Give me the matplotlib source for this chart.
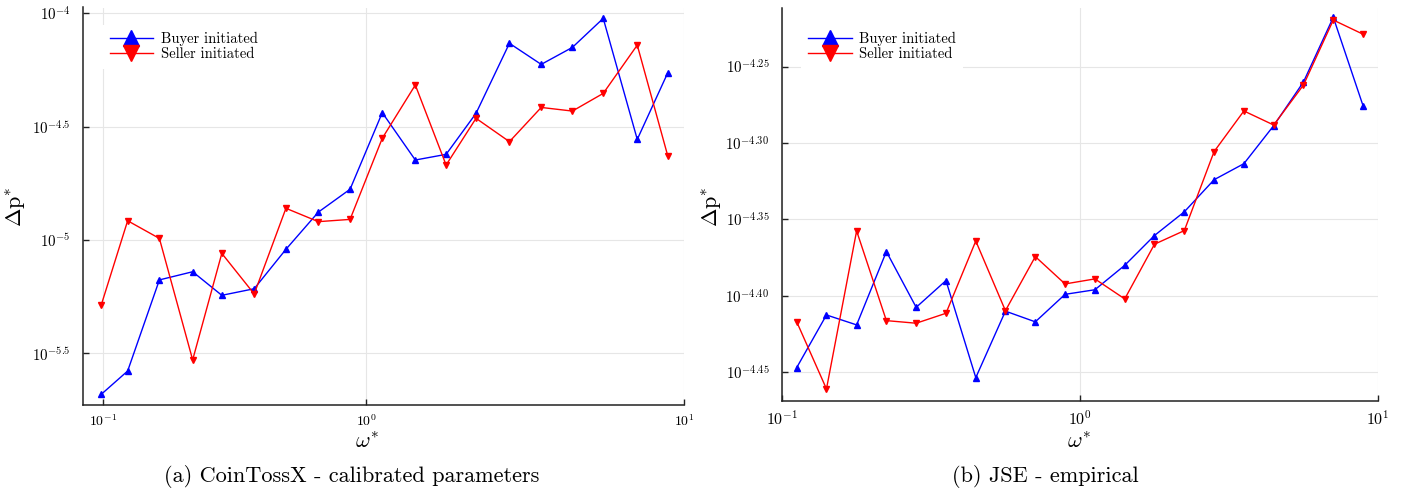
import matplotlib
matplotlib.use("Agg")
import matplotlib.pyplot as plt
from matplotlib.ticker import FixedLocator, FixedFormatter, NullLocator

plt.rcParams["font.family"] = ["cmr10", "DejaVu Serif"]
plt.rcParams["mathtext.fontset"] = "cm"
plt.rcParams["axes.unicode_minus"] = False

# ---- data ------------------------------------------------------------------
# (a) CoinTossX - calibrated parameters
omega_a = [0.147, 0.178, 0.224, 0.285, 0.352, 0.445, 0.560, 0.708, 0.891, 1.125,
           1.429, 1.786, 2.218, 2.825, 3.556, 4.457, 5.572, 7.129, 8.892]
log_dp_buy_a = [-5.681, -5.578, -5.176, -5.140, -5.244, -5.215, -5.041, -4.877,
                -4.776, -4.438, -4.647, -4.622, -4.441, -4.132, -4.225, -4.150,
                -4.022, -4.556, -4.262]
log_dp_sell_a = [-5.287, -4.915, -4.993, -5.529, -5.059, -5.238, -4.860, -4.919,
                 -4.909, -4.551, -4.316, -4.669, -4.463, -4.566, -4.415, -4.431,
                 -4.353, -4.140, -4.629]

# (b) JSE - empirical
omega_b = [0.112, 0.141, 0.178, 0.224, 0.282, 0.355, 0.447, 0.562, 0.708, 0.891,
           1.122, 1.413, 1.778, 2.239, 2.818, 3.548, 4.467, 5.623, 7.079, 8.913]
log_dp_buy_b = [-4.447, -4.4125, -4.419, -4.371, -4.4075, -4.390, -4.4535, -4.410,
                -4.417, -4.399, -4.396, -4.380, -4.3605, -4.345, -4.324, -4.3135,
                -4.2886, -4.260, -4.2177, -4.2757]
log_dp_sell_b = [-4.4169, -4.4609, -4.3575, -4.4162, -4.4179, -4.4114, -4.3641,
                 -4.4097, -4.3743, -4.3922, -4.3889, -4.402, -4.3662, -4.3573,
                 -4.3056, -4.279, -4.2882, -4.262, -4.2195, -4.2288]

yticks_a = [-5.5, -5.0, -4.5, -4.0]
yticklabels_a = [r"$10^{-5.5}$", r"$10^{-5}$", r"$10^{-4.5}$", r"$10^{-4}$"]
yticks_b = [-4.45, -4.40, -4.35, -4.30, -4.25]
yticklabels_b = [r"$10^{-4.45}$", r"$10^{-4.40}$", r"$10^{-4.35}$",
                 r"$10^{-4.30}$", r"$10^{-4.25}$"]
xticks_a = [10 ** -0.826, 1.0, 10.0]
xticks_b = [0.1, 1.0, 10.0]
xticklabels = [r"$10^{-1}$", r"$10^{0}$", r"$10^{1}$"]

captions = ["(a) CoinTossX - calibrated parameters", "(b) JSE - empirical"]

# ---- figure ----------------------------------------------------------------
W, H = 1411, 493
fig = plt.figure(figsize=(W / 100, H / 100), dpi=100)

def px_axes(x0, y0, x1, y1):
    return fig.add_axes([x0 / W, 1 - y1 / H, (x1 - x0) / W, (y1 - y0) / H])

ax_a = px_axes(83, 7.5, 684, 405)
ax_b = px_axes(782, 7.5, 1378, 401)

panels = [
    (ax_a, omega_a, log_dp_buy_a, log_dp_sell_a, (10 ** -0.890, 10.0),
     (10 ** -5.728, 10 ** -3.974), yticks_a, yticklabels_a, xticks_a, 10.0, 0.020),
    (ax_b, omega_b, log_dp_buy_b, log_dp_sell_b, (0.1, 10.0),
     (10 ** -4.4688, 10 ** -4.2113), yticks_b, yticklabels_b, xticks_b, 11.5, 0.019),
]

for ax, om, lb, ls, xl, yl, yt, ytl, xt, xfs, legx in panels:
    ax.plot(om, [10 ** v for v in lb], color="#0000ff", lw=1.0, marker="^",
            ms=5, label="Buyer initiated", zorder=3)
    ax.plot(om, [10 ** v for v in ls], color="#ff0000", lw=1.0, marker="v",
            ms=5, label="Seller initiated", zorder=3)
    ax.set_xscale("log")
    ax.set_yscale("log")
    ax.set_xlim(*xl)
    ax.set_ylim(*yl)

    ax.yaxis.set_major_locator(FixedLocator([10 ** v for v in yt]))
    ax.yaxis.set_major_formatter(FixedFormatter(ytl))
    ax.xaxis.set_major_locator(FixedLocator(xt))
    ax.xaxis.set_major_formatter(FixedFormatter(xticklabels))
    ax.xaxis.set_minor_locator(NullLocator())
    ax.yaxis.set_minor_locator(NullLocator())

    ax.grid(True, color="#e6e6e6", lw=0.8, zorder=0)
    ax.set_axisbelow(True)
    for s in ("top", "right"):
        ax.spines[s].set_visible(False)
    for s in ("left", "bottom"):
        ax.spines[s].set_color("#222222")
        ax.spines[s].set_linewidth(1.1)
    ax.tick_params(axis="both", direction="in", length=4, width=1.0,
                   color="#222222")
    ax.tick_params(axis="y", labelsize=10.8, pad=9)
    ax.tick_params(axis="x", labelsize=xfs, pad=6)

    leg = ax.legend(loc="upper left", bbox_to_anchor=(legx, 0.975),
                    fontsize=10.5, handlelength=3.0, handletextpad=0.5,
                    labelspacing=0.1, markerscale=2.2, borderpad=0.5,
                    frameon=True, fancybox=False)
    leg.get_frame().set_facecolor("white")
    leg.get_frame().set_edgecolor("none")
    leg.get_frame().set_alpha(1.0)

# axis labels
fig.text(16 / W, 1 - 207 / H, r"$\Delta\mathrm{p}^{*}$", rotation=90,
         ha="center", va="center", fontsize=16)
fig.text(712 / W, 1 - 207 / H, r"$\Delta\mathrm{p}^{*}$", rotation=90,
         ha="center", va="center", fontsize=16)
fig.text(367 / W, 1 - 442 / H, r"$\omega^{*}$", ha="center", va="center",
         fontsize=16)
fig.text(1079 / W, 1 - 442 / H, r"$\omega^{*}$", ha="center", va="center",
         fontsize=16)

# captions
fig.text(352 / W, 1 - 477 / H, captions[0], ha="center", va="center",
         fontsize=16)
fig.text(1045 / W, 1 - 477 / H, captions[1], ha="center", va="center",
         fontsize=16)

fig.savefig("out.png", dpi=100, facecolor="white")
